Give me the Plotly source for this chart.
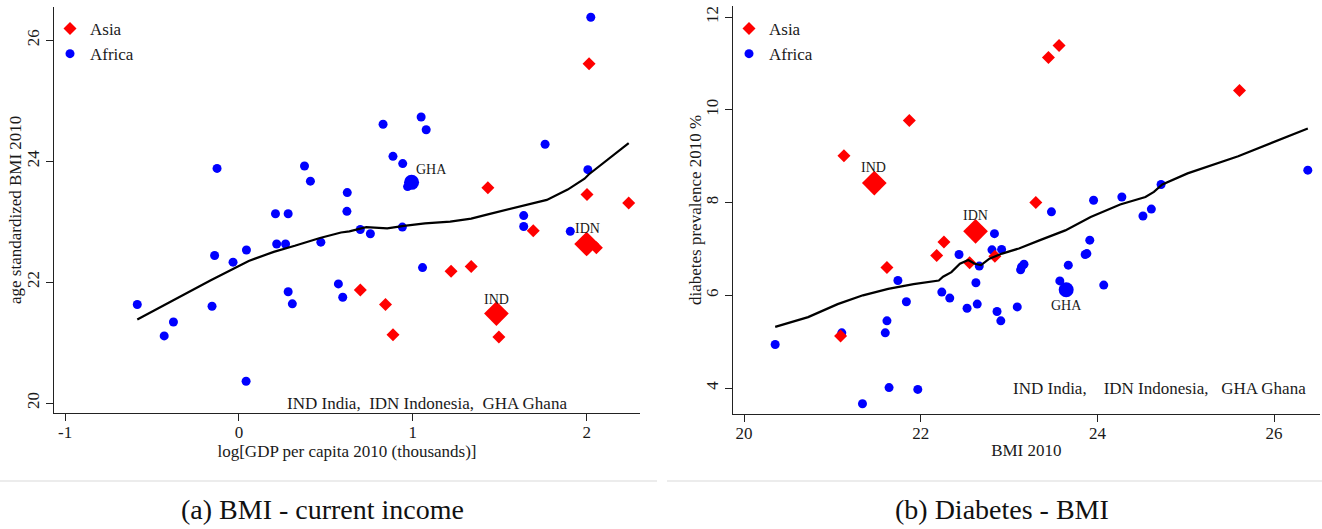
import plotly.graph_objects as go

W, H = 1322, 529

# ---------------- Panel (a): BMI vs log GDP per capita ----------------
a_africa_x = [-0.585, -0.430, -0.377, -0.155, -0.140, -0.126, -0.034, 0.043, 0.041, 0.210,
              0.283, 0.217, 0.268, 0.283, 0.307, 0.377, 0.411, 0.471, 0.572, 0.597,
              0.623, 0.621, 0.698, 0.756, 0.829, 0.886, 0.942, 0.940, 0.970, 1.048,
              1.077, 1.056, 1.638, 1.638, 1.761, 1.906, 2.007, 2.024]
a_africa_y = [21.63, 21.11, 21.34, 21.60, 22.44, 23.88, 22.33, 22.53, 20.36, 23.13,
              23.13, 22.63, 22.63, 21.84, 21.64, 23.92, 23.67, 22.66, 21.97, 21.75,
              23.48, 23.17, 22.87, 22.80, 24.61, 24.08, 23.96, 22.91, 23.58, 24.73,
              24.52, 22.24, 23.10, 22.92, 24.28, 22.84, 23.86, 26.38]
a_asia_x = [0.698, 0.843, 0.886, 1.220, 1.336, 1.432, 1.495, 1.693, 2.002, 2.014, 2.056, 2.242]
a_asia_y = [21.87, 21.63, 21.13, 22.18, 22.26, 23.56, 21.09, 22.85, 23.45, 25.61, 22.57, 23.31]

# highlighted countries (IND, IDN in Asia; GHA in Africa)
a_hl_asia_x = [1.481, 2.000]
a_hl_asia_y = [21.48, 22.63]
a_hl_africa_x = [0.993]
a_hl_africa_y = [23.65]
a_lbl_text = ["GHA", "IDN", "IND"]
a_lbl_x = [1.105, 2.006, 1.483]
a_lbl_y = [23.87, 22.88, 21.72]

a_fit_x = [-0.585, -0.403, -0.162, 0.056, 0.200, 0.321, 0.466, 0.587, 0.635, 0.732, 0.853,
           0.949, 1.070, 1.215, 1.336, 1.432, 1.529, 1.638, 1.771, 1.891, 1.988, 2.012,
           2.109, 2.242]
a_fit_y = [21.38, 21.66, 22.03, 22.35, 22.50, 22.60, 22.73, 22.82, 22.84, 22.91, 22.89,
           22.93, 22.97, 23.00, 23.05, 23.12, 23.19, 23.27, 23.36, 23.53, 23.71, 23.78,
           24.00, 24.30]

# ---------------- Panel (b): diabetes vs BMI ----------------
b_africa_x = [20.353, 21.107, 21.341, 21.599, 21.618, 21.642, 21.742, 21.838, 21.967, 22.239,
              22.329, 22.434, 22.525, 22.625, 22.640, 22.663, 22.807, 22.835, 22.864, 22.907,
              22.916, 23.093, 23.131, 23.141, 23.169, 23.480, 23.575, 23.671, 23.862, 23.881,
              23.914, 23.957, 24.072, 24.277, 24.516, 24.611, 24.721, 26.382]
b_africa_y = [4.94, 5.19, 3.66, 5.19, 5.45, 4.01, 6.32, 5.86, 3.97, 6.07,
              5.94, 6.88, 5.72, 6.27, 5.81, 6.63, 6.98, 7.33, 5.65, 5.45,
              6.99, 5.75, 6.55, 6.61, 6.67, 7.80, 6.31, 6.65, 6.88, 6.90,
              7.19, 8.05, 6.22, 8.12, 7.71, 7.86, 8.39, 8.70]
b_asia_x = [21.131, 21.871, 21.093, 21.618, 22.181, 22.263, 22.554, 22.840, 23.303, 23.446,
            23.566, 25.609]
b_asia_y = [9.01, 9.77, 5.12, 6.60, 6.86, 7.15, 6.70, 6.84, 8.00, 11.13, 11.39, 10.42]

b_hl_asia_x = [21.475, 22.621]
b_hl_asia_y = [8.42, 7.38]
b_hl_africa_x = [23.647]
b_hl_africa_y = [6.12]
b_lbl_text = ["IND", "IDN", "GHA"]
b_lbl_x = [21.464, 22.616, 23.647]
b_lbl_y = [8.76, 7.72, 5.78]

b_fit_x = [20.353, 20.726, 21.060, 21.346, 21.632, 21.919, 22.205, 22.253, 22.348, 22.444,
           22.539, 22.611, 22.683, 22.778, 22.921, 23.112, 23.351, 23.637, 23.924, 24.258,
           24.544, 24.640, 24.735, 25.021, 25.594, 25.976, 26.382]
b_fit_y = [5.32, 5.53, 5.81, 6.00, 6.14, 6.24, 6.32, 6.40, 6.50, 6.68,
           6.76, 6.68, 6.65, 6.79, 6.90, 7.01, 7.19, 7.40, 7.69, 7.96,
           8.12, 8.23, 8.39, 8.63, 9.00, 9.29, 9.60]

FONT = "'Liberation Serif', 'Times New Roman', Times, 'DejaVu Serif', serif"
RED = "#ff0000"
BLUE = "#0000ff"
TXT = "#1a1a1a"


def px(x):
    return x / W


def py(y):
    return 1 - y / H


fig = go.Figure()


def add_panel(xa, ya, legend, afx, afy, asx, asy, hafx, hafy, hasx, hasy, fx, fy):
    fig.add_trace(go.Scatter(x=afx, y=afy, mode="markers", name="Africa",
                             marker=dict(symbol="circle", size=9, color=BLUE),
                             xaxis=xa, yaxis=ya, legend=legend, legendrank=2))
    fig.add_trace(go.Scatter(x=hafx, y=hafy, mode="markers", showlegend=False,
                             marker=dict(symbol="circle", size=15, color=BLUE),
                             xaxis=xa, yaxis=ya))
    fig.add_trace(go.Scatter(x=asx, y=asy, mode="markers", name="Asia",
                             marker=dict(symbol="diamond", size=10, color=RED),
                             xaxis=xa, yaxis=ya, legend=legend, legendrank=1))
    fig.add_trace(go.Scatter(x=hasx, y=hasy, mode="markers", showlegend=False,
                             marker=dict(symbol="diamond", size=19, color=RED),
                             xaxis=xa, yaxis=ya))
    fig.add_trace(go.Scatter(x=fx, y=fy, mode="lines", showlegend=False,
                             line=dict(color="black", width=2.2),
                             xaxis=xa, yaxis=ya))


add_panel("x", "y", "legend", a_africa_x, a_africa_y, a_asia_x, a_asia_y,
          a_hl_africa_x, a_hl_africa_y, a_hl_asia_x, a_hl_asia_y, a_fit_x, a_fit_y)
add_panel("x2", "y2", "legend2", b_africa_x, b_africa_y, b_asia_x, b_asia_y,
          b_hl_africa_x, b_hl_africa_y, b_hl_asia_x, b_hl_asia_y, b_fit_x, b_fit_y)

axis_common = dict(showgrid=False, zeroline=False, showline=True, linecolor="#222",
                   linewidth=1.3, ticks="outside", ticklen=7, tickwidth=1.2,
                   tickcolor="#222", tickfont=dict(family=FONT, size=17, color=TXT),
                   mirror=False)

annotations = []
for t, x, y in zip(a_lbl_text, a_lbl_x, a_lbl_y):
    annotations.append(dict(x=x, y=y, xref="x", yref="y", text=t, showarrow=False,
                            font=dict(family=FONT, size=14, color=TXT)))
for t, x, y in zip(b_lbl_text, b_lbl_x, b_lbl_y):
    annotations.append(dict(x=x, y=y, xref="x2", yref="y2", text=t, showarrow=False,
                            font=dict(family=FONT, size=14, color=TXT)))

nb = "\u00a0"
annotations.append(dict(x=px(569), y=py(403), xref="paper", yref="paper", xanchor="right",
                        yanchor="middle", showarrow=False,
                        text=f"IND India,{nb*2}IDN Indonesia,{nb*2}GHA Ghana",
                        font=dict(family=FONT, size=17, color=TXT)))
annotations.append(dict(x=px(1308), y=py(388), xref="paper", yref="paper", xanchor="right",
                        yanchor="middle", showarrow=False,
                        text=f"IND India,{nb*4}IDN Indonesia,{nb*3}GHA Ghana",
                        font=dict(family=FONT, size=17, color=TXT)))
# y-axis titles
annotations.append(dict(x=px(15), y=py(210), xref="paper", yref="paper", textangle=-90,
                        xanchor="center", yanchor="middle", showarrow=False,
                        text="age standardized BMI 2010",
                        font=dict(family=FONT, size=17, color=TXT)))
annotations.append(dict(x=px(695), y=py(210), xref="paper", yref="paper", textangle=-90,
                        xanchor="center", yanchor="middle", showarrow=False,
                        text="diabetes prevalence 2010 %",
                        font=dict(family=FONT, size=17, color=TXT)))
# captions
annotations.append(dict(x=px(322), y=py(509), xref="paper", yref="paper", xanchor="center",
                        yanchor="middle", showarrow=False, text="(a) BMI - current income",
                        font=dict(family=FONT, size=28, color="#111")))
annotations.append(dict(x=px(1002), y=py(509), xref="paper", yref="paper", xanchor="center",
                        yanchor="middle", showarrow=False, text="(b) Diabetes - BMI",
                        font=dict(family=FONT, size=28, color="#111")))

shapes = [
    dict(type="line", xref="paper", yref="paper", x0=0, x1=px(657), y0=py(481), y1=py(481),
         line=dict(color="#e6e6e6", width=1.5)),
    dict(type="line", xref="paper", yref="paper", x0=px(667), x1=1, y0=py(481), y1=py(481),
         line=dict(color="#e6e6e6", width=1.5)),
]

legend_common = dict(font=dict(family=FONT, size=17, color=TXT), bgcolor="rgba(0,0,0,0)",
                     borderwidth=0, xanchor="left", yanchor="top", itemwidth=30,
                     tracegroupgap=0, itemclick=False)

fig.update_layout(
    width=W, height=H,
    margin=dict(l=0, r=0, t=0, b=0),
    paper_bgcolor="white", plot_bgcolor="white",
    font=dict(family=FONT, color=TXT),
    xaxis=dict(axis_common, domain=[px(54), px(640)], range=[-1.064, 2.307],
               tickvals=[-1, 0, 1, 2], ticktext=["-1", "0", "1", "2"], anchor="y",
               ticklabelstandoff=-4,
               title=dict(text="log[GDP per capita 2010 (thousands)]", standoff=2,
                          font=dict(family=FONT, size=17, color=TXT))),
    yaxis=dict(axis_common, domain=[py(413.3), py(7)], range=[19.83, 26.55],
               tickvals=[20, 22, 24, 26], tickangle=-90, anchor="x"),
    xaxis2=dict(axis_common, domain=[px(732.7), px(1320)], range=[19.872, 26.52],
                tickvals=[20, 22, 24, 26], anchor="y2", ticklabelstandoff=-4,
                title=dict(text="BMI 2010", standoff=2,
                           font=dict(family=FONT, size=17, color=TXT))),
    yaxis2=dict(axis_common, domain=[py(414), py(6)], range=[3.44, 12.24],
                tickvals=[4, 6, 8, 10, 12], tickangle=-90, anchor="x2"),
    legend=dict(legend_common, x=px(50), y=py(11)),
    legend2=dict(legend_common, x=px(729), y=py(11)),
    annotations=annotations,
    shapes=shapes,
)

fig.write_html("out.html")
